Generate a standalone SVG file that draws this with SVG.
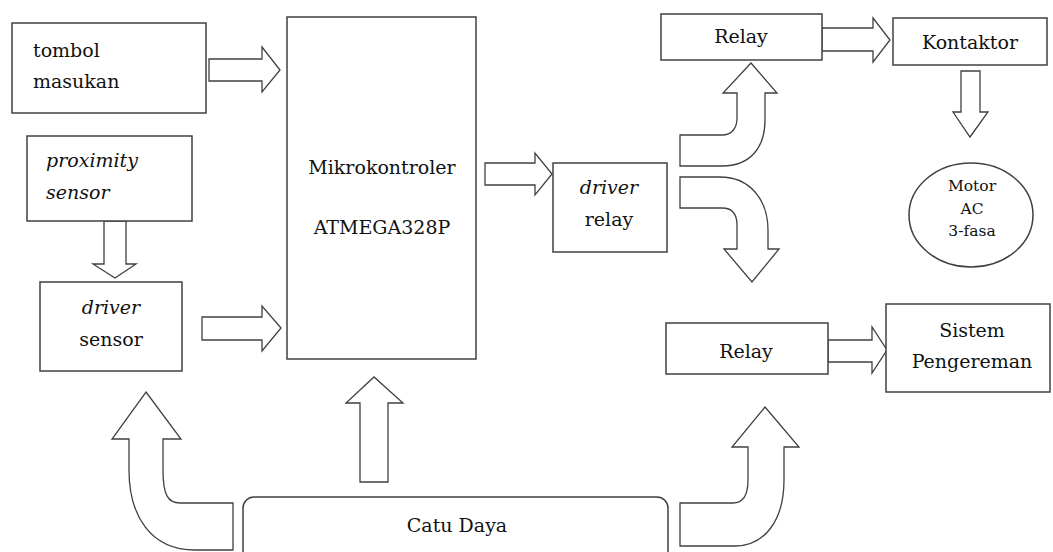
<svg xmlns="http://www.w3.org/2000/svg" width="1053" height="552" viewBox="0 0 1053 552">
<style>
.box{fill:#fff;stroke:#404040;stroke-width:1.5}
.arr{fill:#fff;stroke:#404040;stroke-width:1.3;stroke-linejoin:miter}
text{font-family:"DejaVu Serif",serif;font-size:19px;fill:#111}
.c{text-anchor:middle}
.i{font-style:italic}
.s{font-size:15.5px}
</style>
<rect width="1053" height="552" fill="#fff"/>
<g id="connectors">
<path class="arr" d="M209,59 H262 V47 L280,70 L262,92 V81 H209 Z"/>
<path class="arr" d="M202,317 H262 V306 L281,328 L262,351 V340 H202 Z"/>
<path class="arr" d="M104,221 V264 H93 L115,278 L136,264 H126 V221 Z"/>
<path class="arr" d="M360,482 V403 H346 L374,377 L403,403 H388 V482 Z"/>
<path class="arr" d="M485,163 H535 V153 L552,174 L535,195 V185 H485 Z"/>
<path class="arr" d="M822,28 H873 V18 L890,40 L873,62 V51 H822 Z"/>
<path class="arr" d="M961,71 V112 H953 L970,137 L988,112 H980 V71 Z"/>
<path class="arr" d="M828,340 H872 V327 L887,350 L872,373 V362 H828 Z"/>
<path class="arr" d="M146,392 L181,439 L163,439 L163,470 C163,495 168,503 180,503 L233,503 L233,550 L195,550 C150,550 129,515 129,470 L129,439 L112,439 Z"/>
<path class="arr" d="M765,407 L799,447 L784,447 L784,480 C784,520 765,546 735,546 L680,546 L680,503 L733,503 C743,503 748,495 748,480 L748,447 L732,447 Z"/>
<path class="arr" d="M751,63 L777,93 L765,93 L765,120 C765,148 750,166 722,166 L680,166 L680,135 L722,135 C732,135 737,128 737,118 L737,93 L723,93 Z"/>
<path class="arr" d="M680,177 L720,177 C750,177 768,200 768,230 L768,249 L779,249 L752,282 L724,249 L737,249 L737,225 C737,214 732,208 722,208 L680,208 Z"/>
</g>
<g id="tombol">
<rect class="box" x="12" y="23" width="194" height="90"/>
<text x="33" y="57">tombol</text>
<text x="33" y="88">masukan</text>
</g>
<g id="proximity">
<rect class="box" x="27" y="136" width="165" height="85"/>
<text class="i" x="46" y="167">proximity</text>
<text class="i" x="46" y="199">sensor</text>
</g>
<g id="driver-sensor">
<rect class="box" x="40" y="282" width="142" height="89"/>
<text class="c i" x="111" y="314">driver</text>
<text class="c" x="111" y="346">sensor</text>
</g>
<g id="mikrokontroler">
<rect class="box" x="287" y="17" width="189" height="342"/>
<text class="c" x="382" y="174">Mikrokontroler</text>
<text class="c" x="382" y="234">ATMEGA328P</text>
</g>
<g id="driver-relay">
<rect class="box" x="553" y="163" width="114" height="89"/>
<text class="c i" x="609" y="194">driver</text>
<text class="c" x="609" y="226">relay</text>
</g>
<g id="relay1">
<rect class="box" x="661" y="14" width="161" height="46"/>
<text class="c" x="741" y="43">Relay</text>
</g>
<g id="kontaktor">
<rect class="box" x="893" y="18" width="154" height="47"/>
<text class="c" x="970" y="49">Kontaktor</text>
</g>
<g id="motor">
<ellipse class="box" cx="971" cy="215" rx="62" ry="52"/>
<text class="c s" x="972" y="191">Motor</text>
<text class="c s" x="972" y="214">AC</text>
<text class="c s" x="972" y="236">3-fasa</text>
</g>
<g id="relay2">
<rect class="box" x="666" y="323" width="162" height="51"/>
<text class="c" x="746" y="358">Relay</text>
</g>
<g id="sistem-pengereman">
<rect class="box" x="886" y="304" width="164" height="88"/>
<text class="c" x="972" y="337">Sistem</text>
<text class="c" x="972" y="368">Pengereman</text>
</g>
<g id="catu-daya">
<rect class="box" x="243" y="497" width="425" height="66" rx="11"/>
<text class="c" x="457" y="532">Catu Daya</text>
</g>
</svg>
